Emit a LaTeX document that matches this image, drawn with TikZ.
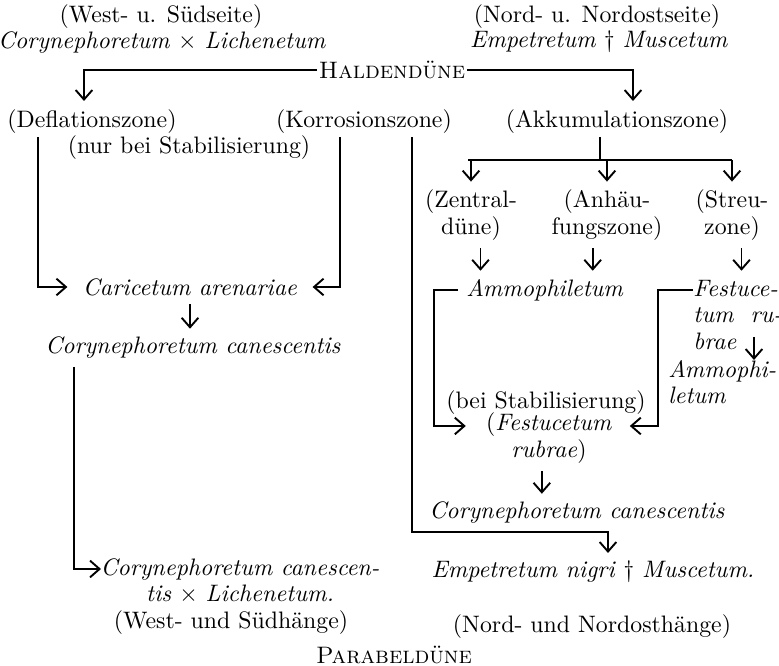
\documentclass[tikz,border=0pt]{standalone}
\usetikzlibrary{arrows.meta}
\begin{document}
\begin{tikzpicture}[x=0.42pt, y=-0.42pt,
		txt/.style={align=center, font=\fontsize{10}{11}\selectfont},
		pfeil/.style={thick, -{Straight Barb[length=4pt, width=7pt]}}]
		\useasboundingbox (0,0) rectangle (779,666);
		
		\node [txt] (west) at (161,17) {(West- u. Südseite)};
		\node [txt] (wlich) at (162,43) {\textit{Corynephoretum} $\times$ \textit{Lichenetum}};
		\node [txt] (nord) at (597,17) {(Nord- u. Nordostseite)};
		\node [txt] (nmus) at (599,42) {\textit{Empetretum} \textdagger\ \textit{Muscetum}};
		\node [txt, inner sep=0.5pt] (halden) at (392,70) {\textsc{Haldendüne}};
		
		\node [txt] (defl) at (92,122) {(Deflationszone)};
		\node [txt] (korr) at (364,122) {(Korrosionszone)};
		\node [txt] (akku) at (617,122) {(Akkumulationszone)};
		\node [txt] (nurbei) at (189,148) {(nur bei Stabilisierung)};
		\node [txt] (caric) at (190,287) {\textit{Caricetum arenariae}};
		\node [txt] (wcory) at (193,348) {\textit{Corynephoretum canescentis}};
		\node [txt] (wend) at (240,581) {\textit{Corynephoretum canescen-}\\\textit{tis} $\times$ \textit{Lichenetum.}};
		\node [txt] (wsued) at (231,623) {(West- und Südhänge)};
		
		\node [txt] (zentral) at (471,215) {(Zentral-\\düne)};
		\node [txt] (anhaeu) at (607,215) {(Anhäu-\\fungszone)};
		\node [txt] (streu) at (732,215) {(Streu-\\zone)};
		\node [txt] (ammo) at (545,290) {\textit{Ammophiletum}};
		\node [txt, align=left, anchor=north west, inner sep=0pt] (festS) at (693,280) {\textit{Festuce-}\\\textit{tum\ \ ru-}\\\textit{brae}};
		\node [txt, align=left, anchor=north west, inner sep=0pt] (ammoS) at (668,360) {\textit{Ammophi-}\\\textit{letum}};
		\node [txt] (beistab) at (546,403) {(bei Stabilisierung)};
		\node [txt] (fest) at (549,438) {(\textit{Festucetum}\\\textit{rubrae})};
		\node [txt] (ncory) at (577,513) {\textit{Corynephoretum canescentis}};
		\node [txt] (nemp) at (593,572) {\textit{Empetretum nigri} \textdagger\ \textit{Muscetum.}};
		\node [txt] (nhang) at (592,627) {(Nord- und Nordosthänge)};
		\node [txt] (para) at (394,655) {\textsc{Parabeldüne}};
		
		\coordinate (h1) at (84,101);
		\coordinate (h2) at (633,101);
		\coordinate (d1) at (38,137);
		\coordinate (k1) at (340,137);
		\coordinate (k2) at (412,137);
		\coordinate (k3) at (608,553);
		\coordinate (c1) at (74,367);
		\coordinate (c2) at (101,569);
		\coordinate (a0) at (600,137);
		\coordinate (a1) at (468,160);
		\coordinate (a2) at (732,160);
		\coordinate (b1) at (434,426);
		\coordinate (b2) at (658,426);
		\coordinate (fa) at (754,337);
		
		\draw [pfeil] (halden.west) -| (h1);
		\draw [pfeil] (halden.east) -| (h2);
		\draw [pfeil] (d1) |- ([xshift=-3pt]caric.west);
		\draw [pfeil] (k1) |- ([xshift=3pt]caric.east);
		\draw [pfeil] (caric.south) -- (caric.south |- wcory.north);
		\draw [pfeil] (c1) |- (c2);
		\draw [pfeil] (k2) |- (k3 |- ncory.south) -- (k3);
		
		\draw [thick] (a0) -- (a0 |- a1);
		\draw [thick] (a1) -- (a2);
		\draw [pfeil] (zentral.north |- a1) -- (zentral.north);
		\draw [pfeil] (anhaeu.north |- a1) -- (anhaeu.north);
		\draw [pfeil] (streu.north |- a1) -- (streu.north);
		\draw [pfeil] ([xshift=4pt]zentral.south) -- ([xshift=4pt]zentral.south |- ammo.north);
		\draw [pfeil] ([xshift=-6pt]anhaeu.south) -- ([xshift=-6pt]anhaeu.south |- ammo.north);
		\draw [pfeil] ([xshift=4pt]streu.south) -- ([xshift=4pt]streu.south |- ammo.north);
		\draw [pfeil] (ammo.west) -| (b1) -- ([xshift=-5pt]b1 -| fest.west);
		\draw [pfeil] (festS.west |- ammo.west) -| (b2) -- ([xshift=4pt]b2 -| fest.east);
		\draw [pfeil] (fa) -- (fa |- ammoS.north);
		\draw [pfeil] ([xshift=-3pt]fest.south) -- ([xshift=-3pt]fest.south |- ncory.north);
	\end{tikzpicture}
\end{document}
